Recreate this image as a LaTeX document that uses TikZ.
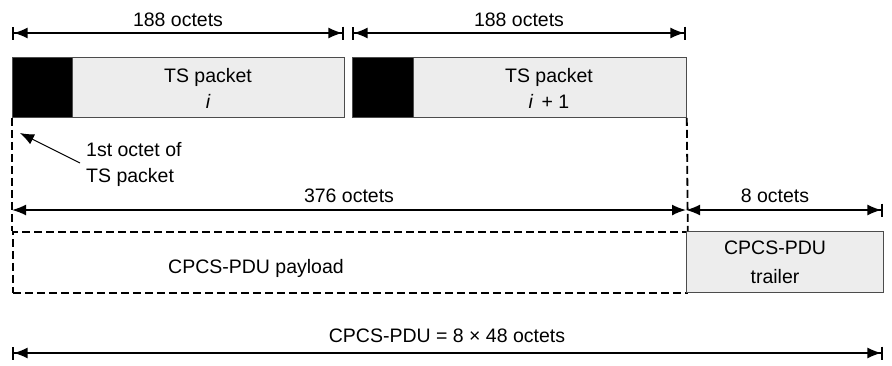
\documentclass[tikz,border=0pt]{standalone}
\usepackage{fontspec}
\setmainfont{Liberation Sans}
\usetikzlibrary{arrows.meta}

\tikzset{
  lbl/.style={inner sep=0pt, font=\fontsize{19.5}{23}\selectfont},
  hdr/.style={draw=black!70, line width=0.8pt, fill=black, minimum height=60pt, inner sep=0pt, anchor=north west},
  body/.style={draw=black!70, line width=0.8pt, fill=black!7, minimum height=60pt, inner sep=0pt, anchor=north west},
  dim/.style={line width=1.6pt,
    {Bar[width=13pt,line width=1.6pt,sep=0pt]Latex[length=14pt,width=11pt]}-{Latex[length=14pt,width=11pt,sep=0pt]Bar[width=13pt,line width=1.6pt]}},
  dimopen/.style={line width=1.6pt, {Latex[length=14pt,width=11pt]}-{Latex[length=14pt,width=11pt]}},
  dimright/.style={line width=1.6pt,
    {Latex[length=14pt,width=11pt]}-{Latex[length=14pt,width=11pt,sep=0pt]Bar[width=13pt,line width=1.6pt]}},
  dashln/.style={line width=1.8pt, dash pattern=on 8pt off 4pt},
}

\begin{document}
\begin{tikzpicture}[x=1pt, y=-1pt]
\useasboundingbox (0,0) rectangle (892,365);

% TS packet i
\node[hdr, minimum width=60pt] (h1) at (12,57) {};
\node[body, minimum width=272pt] (b1) at (72,57) {};
\node[lbl] (t1) at (208,77) {TS packet};
\node[lbl] (i1) at (208,101) {\itshape i};

% TS packet i+1
\node[hdr, minimum width=61pt] (h2) at (352,57) {};
\node[body, minimum width=273pt] (b2) at (413,57) {};
\node[lbl] (t2) at (549,77) {TS packet};
\node[lbl] (i2) at (549,101) {{\itshape i}\ \,+ 1};

% CPCS-PDU payload and trailer
\node[dashln, draw, minimum width=674pt, minimum height=61pt, inner sep=0pt, anchor=north west] (pl) at (12,231) {};
\node[lbl] (plt) at (256,268) {CPCS-PDU payload};
\node[draw=black!70, line width=0.8pt, fill=black!7, minimum width=197pt, minimum height=61pt, inner sep=0pt, anchor=north west] (tr) at (686,231) {};
\node[lbl] (tr1) at (775,248) {CPCS-PDU};
\node[lbl] (tr2) at (775,277) {trailer};

% dashed guide lines from the packets to the payload
\draw[dashln] (h1.south west) -- (pl.north west);
\draw[dashln] (b2.south east) -- (pl.north east);

% dimension lines
\coordinate (a1) at (12,33);
\coordinate (a2) at (344,33);
\coordinate (a3) at (352,33);
\coordinate (a4) at (686,33);
\draw[dim] (a1) -- (a2);
\draw[dim] (a3) -- (a4);
\node[lbl] (d1) at (178,20) {188 octets};
\node[lbl] (d2) at (519,20) {188 octets};

\coordinate (m1) at (12,210);
\coordinate (m2) at (686,210);
\coordinate (m3) at (883,210);
\draw[dimopen] (m1) -- (m2);
\draw[dimright] (m2) -- (m3);
\node[lbl] (d3) at (349,196) {376 octets};
\node[lbl] (d4) at (775,196) {8 octets};

\coordinate (e1) at (12,353);
\coordinate (e2) at (883,353);
\draw[dim] (e1) -- (e2);
\node[lbl] (d5) at (447,336) {CPCS-PDU = 8 × 48 octets};

% first-octet annotation
\node[lbl, anchor=west] (n1) at (86,150) {1st octet of};
\node[lbl, anchor=west] (n2) at (86,177) {TS packet};
\coordinate (nt) at (80,163);
\coordinate (np) at (20,133);
\draw[line width=1pt, -{Latex[length=14pt,width=11pt]}] (nt) -- (np);

\end{tikzpicture}
\end{document}
